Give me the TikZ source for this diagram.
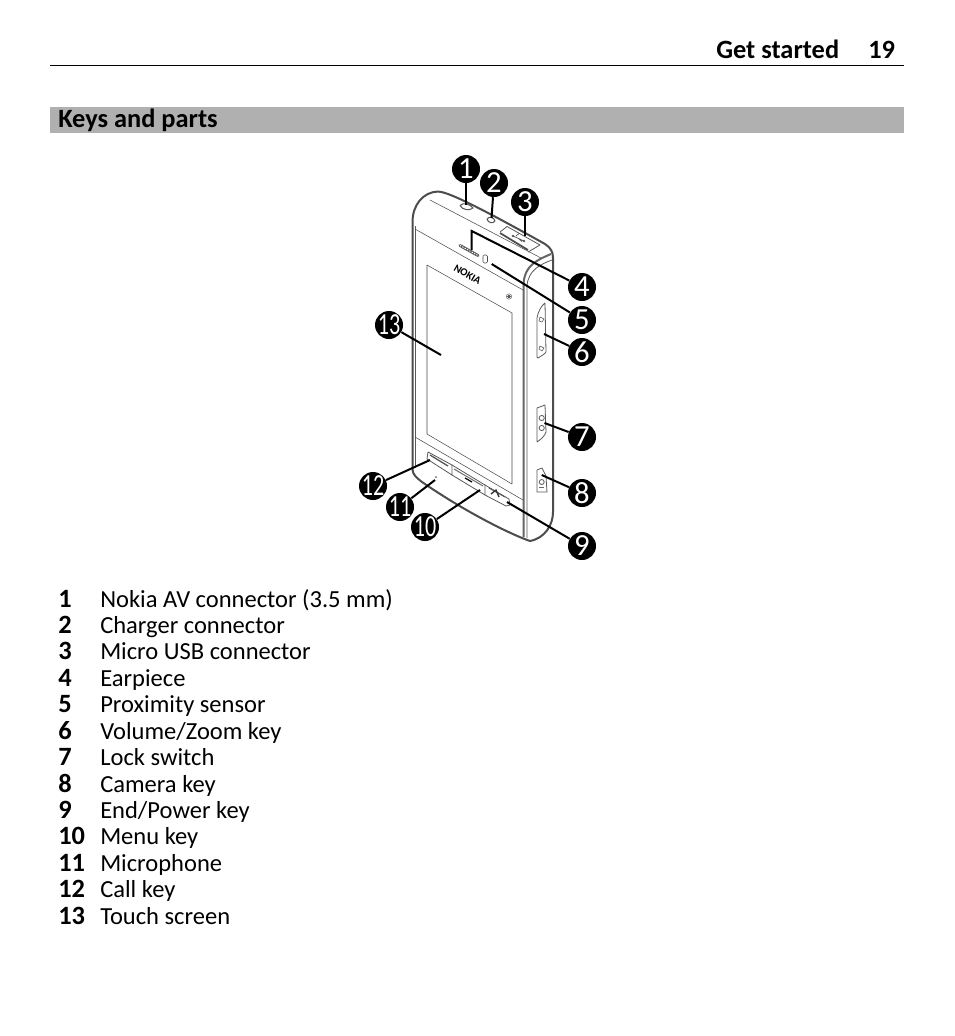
\documentclass[tikz,border=0pt]{standalone}
\usepackage{fontspec}
\setmainfont{Carlito}
\newcommand{\calltxt}[1]{\makebox[0pt][c]{#1}}
\newcommand{\calltwo}[1]{\makebox[0pt][c]{\scalebox{0.72}[1]{#1}}}
\tikzset{
  x=0.75pt,y=-0.75pt,
  bodyout/.style={draw=black!70,line width=1.5pt,line join=round},
  thin part/.style={draw=black!70,line width=0.4pt,line join=round},
  mid part/.style={draw=black!65,line width=0.6pt,line join=round},
  callout/.style={circle,fill=black,inner sep=0pt,minimum size=21pt,text=white,font=\fontsize{23}{23}\selectfont},
  leader/.style={draw=black,line width=1.5pt},
  pagetxt/.style={anchor=base west,inner sep=0pt,font=\fontsize{18.4}{20}\selectfont},
  numtxt/.style={anchor=base west,inner sep=0pt,font=\fontsize{19.8}{20}\selectfont\bfseries},
  headtxt/.style={anchor=base west,inner sep=0pt,font=\fontsize{19.8}{20}\selectfont\bfseries}
}
\begin{document}
\begin{tikzpicture}
\useasboundingbox (0,0) rectangle (954,1036);
\fill[white] (0,0) rectangle (954,1036);
% page furniture
\node[headtxt] (chap) at (716,58) {Get started};
\node[headtxt] (pg) at (868,58) {19};
\draw[black,line width=0.75pt] (50,65) -- (904,65);
\fill[black!31] (50,107) rectangle (904,133);
\node[headtxt] (title) at (58,127) {Keys and parts};
% phone body
\draw[bodyout] (412.5,470) -- (412.5,222) .. controls (412.5,205) and (423,192) .. (438,191.5) .. controls (447,192) and (470,202) .. (545,244) .. controls (551,248) and (553,252) .. (553,258) -- (553,512) .. controls (553,525) and (545,538) .. (530,541) .. controls (515,536) and (470,515) .. (422,482) .. controls (417,478) and (413,475) .. (412.5,470);
\draw[mid part] (415.5,226) -- (415.5,468);
\draw[bodyout,draw=black!60] (551,254) .. controls (540,259) and (524,264) .. (523.5,285) -- (523.5,537);
\draw[mid part] (552,260) .. controls (541,264) and (528,270) .. (527,286) -- (527,538);
\draw[thin part] (430,200) -- (541,258);
\draw[thin part] (415,229) -- (523,290);
\draw[thin part] (415,437) -- (523,500);
\draw[thin part] (427,265) -- (512,313) -- (512,484) -- (427,434) -- cycle;
% earpiece, logo, sensor, front camera
\draw[black!65,line width=2.2pt,line cap=round] (460,245.5) -- (478,255.5);
\draw[white,line width=0.7pt,dash pattern=on 1pt off 1pt] (460,245.5) -- (478,255.5);
\draw[thin part,rounded corners=1pt] (483,255) rectangle (487.5,263);
\node[inner sep=0pt,rotate=-30,font=\fontsize{8}{8}\selectfont\bfseries] (logo) at (467.5,274.5) {NOKIA};
\fill[black!70] (509,296.5) circle (1.8);
\draw[black!70,line width=0.3pt] (509,296.5) circle (2.7);
% top connectors
\draw[mid part,line width=0.8pt] (460,205.5) .. controls (463,202) and (470,204) .. (473,208) .. controls (470,211) and (462,210) .. (460,205.5);
\draw[mid part,line width=0.8pt] (487,219) .. controls (489,216) and (494,217) .. (495,221) .. controls (493,224) and (488,223) .. (487,219);
\draw[mid part] (500,232) -- (507,226.5) -- (540,245) -- (528,252);
\draw[black!70,line width=1.3pt] (500,233) -- (528,250);
\draw[black!70,line width=0.5pt] (513,236) -- (524,241) (516,236) -- (519,233.5) (519,239) -- (522,241.5);
\draw[black!70,line width=0.5pt] (513,236) circle (1) (524,241) circle (1);
% side keys
\draw[mid part] (537,318) .. controls (538,312) and (541,306) .. (545,303) -- (546,352) .. controls (545,354) and (541,356) .. (538,358) -- (537,357) -- cycle;
\draw[thin part] (540,317) -- (544,319) -- (542,322) -- (539,321) -- cycle;
\draw[thin part] (540,346) -- (544,348) -- (542,351) -- (539,349) -- cycle;
\draw[mid part] (537,442) -- (537,408) -- (545,405) -- (546,432) .. controls (545,436) and (540,440) .. (537,442);
\draw[mid part] (541.7,418) circle (2.6); \draw[mid part] (541.7,428) circle (2.6);
\draw[mid part] (537,492) -- (537,470) -- (542,468) -- (546,476) -- (547,492) -- cycle;
\draw[mid part] (541.7,482) circle (2.5);
\draw[black!60,line width=0.5pt] (539,487) -- (544,487);
% bottom keys
\draw[mid part] (427,459) -- (428,452) -- (452,465) -- (452,475) -- cycle;
\draw[mid part] (452,465) -- (485,485) -- (485,495) -- (452,475);
\draw[mid part] (485,485) -- (509,499) -- (510,505) -- (506,506) -- (485,495);
\draw[black!65,line width=1pt] (430,455) -- (448,466);
\draw[black!55,line width=0.8pt] (454,469) -- (483,486);
\draw[black,line width=0.9pt] (465,478) -- (472,482);
\draw[black!65,line width=0.8pt] (489,488) -- (505,497);
\draw[black!80,line width=1pt] (491,494) -- (496,490) -- (499,497);
\fill[black!60] (436,477) circle (1);
% leader targets
\coordinate (t1) at (466,205);
\coordinate (t2) at (491.5,218);
\coordinate (t3) at (525,236);
\coordinate (t4a) at (471.7,250);
\coordinate (t4b) at (471.7,231);
\coordinate (t5) at (491.7,264);
\coordinate (t6) at (544,334);
\coordinate (t7) at (544.5,423);
\coordinate (t8) at (541.7,475);
\coordinate (t9) at (507,502);
\coordinate (t10) at (480,490);
\coordinate (t11) at (435,480);
\coordinate (t12) at (430,460);
\coordinate (t13) at (441,355);
% callouts
\node[callout] (n1) at (466,169) {\calltxt{1}};
\node[callout] (n2) at (494,183) {\calltxt{2}};
\node[callout] (n3) at (525,202) {\calltxt{3}};
\node[callout] (n4) at (582,287) {\calltxt{4}};
\node[callout] (n5) at (582,320) {\calltxt{5}};
\node[callout] (n6) at (582,352) {\calltxt{6}};
\node[callout] (n7) at (582,437) {\calltxt{7}};
\node[callout] (n8) at (582,493) {\calltxt{8}};
\node[callout] (n9) at (582,546) {\calltxt{9}};
\node[callout] (n10) at (425,527) {\calltwo{10}};
\node[callout] (n11) at (400,507) {\calltwo{11}};
\node[callout] (n12) at (373,486) {\calltwo{12}};
\node[callout] (n13) at (389,325) {\calltwo{13}};
% leaders
\draw[leader] (n1) -- (t1);
\draw[leader] (n2) -- (t2);
\draw[leader] (n3) -- (t3);
\draw[leader] (n4) -- (t4b) -- (t4a);
\draw[leader] (n5) -- (t5);
\draw[leader] (n6) -- (t6);
\draw[leader] (n7) -- (t7);
\draw[leader] (n8) -- (t8);
\draw[leader] (n9) -- (t9);
\draw[leader] (n10) -- (t10);
\draw[leader] (n11) -- (t11);
\draw[leader] (n12) -- (t12);
\draw[leader] (n13) -- (t13);
% legend
\node[numtxt] (l1) at (58,607) {1};   \node[pagetxt] (d1) at (100,607) {Nokia AV connector (3.5 mm)};
\node[numtxt] (l2) at (58,633) {2};   \node[pagetxt] (d2) at (100,633) {Charger connector};
\node[numtxt] (l3) at (58,659) {3};   \node[pagetxt] (d3) at (100,659) {Micro USB connector};
\node[numtxt] (l4) at (58,686) {4};   \node[pagetxt] (d4) at (100,686) {Earpiece};
\node[numtxt] (l5) at (58,712) {5};   \node[pagetxt] (d5) at (100,712) {Proximity sensor};
\node[numtxt] (l6) at (58,739) {6};   \node[pagetxt] (d6) at (100,739) {Volume/Zoom key};
\node[numtxt] (l7) at (58,765) {7};   \node[pagetxt] (d7) at (100,765) {Lock switch};
\node[numtxt] (l8) at (58,792) {8};   \node[pagetxt] (d8) at (100,792) {Camera key};
\node[numtxt] (l9) at (58,818) {9};   \node[pagetxt] (d9) at (100,818) {End/Power key};
\node[numtxt] (l10) at (58,844) {10}; \node[pagetxt] (d10) at (100,844) {Menu key};
\node[numtxt] (l11) at (58,871) {11}; \node[pagetxt] (d11) at (100,871) {Microphone};
\node[numtxt] (l12) at (58,897) {12}; \node[pagetxt] (d12) at (100,897) {Call key};
\node[numtxt] (l13) at (58,924) {13}; \node[pagetxt] (d13) at (100,924) {Touch screen};
\end{tikzpicture}
\end{document}
